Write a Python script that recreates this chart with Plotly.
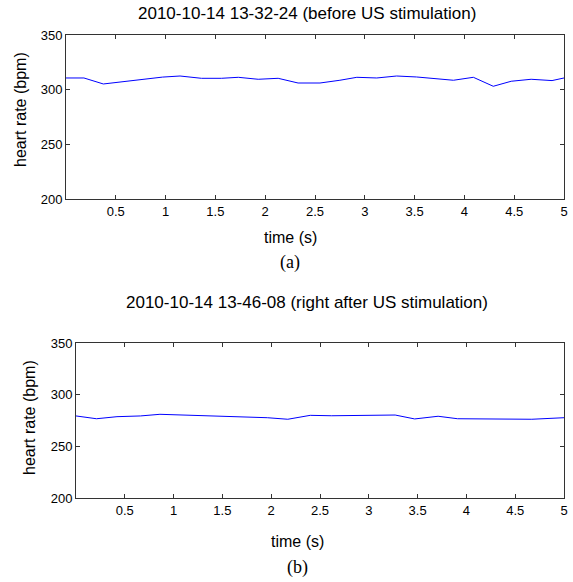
import plotly.graph_objects as go

W, H = 573, 582

# ---- data ----
t_before = [0, 0.18, 0.375, 0.57, 0.77, 0.97, 1.145, 1.36, 1.56, 1.73, 1.93, 2.13, 2.33,
            2.55, 2.75, 2.92, 3.12, 3.32, 3.52, 3.70, 3.89, 4.09, 4.29, 4.47, 4.67, 4.88, 5.0]
hr_before = [310.7, 310.7, 305.2, 307.4, 309.6, 311.5, 312.5, 310.4, 310.4, 311.3, 309.5,
             310.4, 306.1, 306.1, 308.6, 311.3, 310.7, 312.5, 311.6, 310.2, 308.6, 311.3,
             303.1, 307.7, 309.5, 308.3, 310.7]

t_after = [0, 0.21, 0.42, 0.66, 0.86, 1.07, 1.30, 1.51, 1.71, 1.96, 2.17, 2.40, 2.62,
           2.84, 3.06, 3.27, 3.47, 3.71, 3.91, 4.36, 4.67, 5.0]
hr_after = [279.4, 276.7, 278.7, 279.4, 281.0, 280.3, 280.0, 279.4, 278.1, 277.7, 276.2,
            280.0, 279.6, 279.6, 279.6, 280.3, 276.5, 279.1, 276.7, 276.2, 276.2, 277.7]

x_ticks = [0.5, 1, 1.5, 2, 2.5, 3, 3.5, 4, 4.5, 5]
x_ticktext = ["0.5", "1", "1.5", "2", "2.5", "3", "3.5", "4", "4.5", "5"]
y_ticks = [200, 250, 300, 350]

title_a = "2010-10-14 13-32-24 (before US stimulation)"
title_b = "2010-10-14 13-46-08 (right after US stimulation)"
x_label = "time (s)"
y_label = "heart rate (bpm)"

# ---- layout geometry (pixels -> paper) ----
def px(x):
    return x / W

def py(y):
    return 1 - y / H

SANS = "Liberation Sans, Arial, Helvetica, sans-serif"
SERIF = "Liberation Serif, Times New Roman, serif"

fig = go.Figure()
fig.add_trace(go.Scatter(x=t_before, y=hr_before, mode="lines",
                         line=dict(color="#0000ff", width=1), xaxis="x", yaxis="y",
                         showlegend=False, hoverinfo="skip"))
fig.add_trace(go.Scatter(x=t_after, y=hr_after, mode="lines",
                         line=dict(color="#0000ff", width=1), xaxis="x2", yaxis="y2",
                         showlegend=False, hoverinfo="skip"))

axis_common = dict(showline=True, linecolor="#333333", linewidth=1, mirror="ticks",
                   ticks="inside", ticklen=4, tickcolor="#333333", showgrid=False,
                   zeroline=False, ticklabeloverflow="allow", automargin=False,
                   tickfont=dict(family=SANS, size=13, color="black"))

fig.update_layout(
    template="none",
    width=W, height=H, autosize=False,
    margin=dict(l=0, r=0, t=0, b=0, pad=0),
    paper_bgcolor="white", plot_bgcolor="white",
    xaxis=dict(domain=[px(66), px(564)], range=[0, 5], anchor="y",
               tickvals=x_ticks, ticktext=x_ticktext, **axis_common),
    yaxis=dict(domain=[py(199), py(35)], range=[200, 350], anchor="x",
               tickvals=y_ticks, **axis_common),
    xaxis2=dict(domain=[px(76), px(564)], range=[0, 5], anchor="y2",
                tickvals=x_ticks, ticktext=x_ticktext, **axis_common),
    yaxis2=dict(domain=[py(498), py(343)], range=[200, 350], anchor="x2",
                tickvals=y_ticks, **axis_common),
)

def ann(text, x, y, size, family=SANS, angle=0):
    fig.add_annotation(text=text, x=px(x), y=py(y), xref="paper", yref="paper",
                       showarrow=False, xanchor="center", yanchor="middle",
                       textangle=angle, font=dict(family=family, size=size, color="black"))

ann(title_a, 307, 13, 17)
ann(x_label, 290, 237, 16)
ann("(a)", 290, 263, 18, SERIF)
ann(y_label, 20, 110, 16, angle=-90)

ann(title_b, 307, 302, 17)
ann(x_label, 297, 541, 16)
ann("(b)", 297, 567, 18, SERIF)
ann(y_label, 29, 418, 16, angle=-90)

fig.write_html("out.html", config={"displayModeBar": False},
               post_script="document.body.style.margin='0';document.body.style.overflow='hidden';")
